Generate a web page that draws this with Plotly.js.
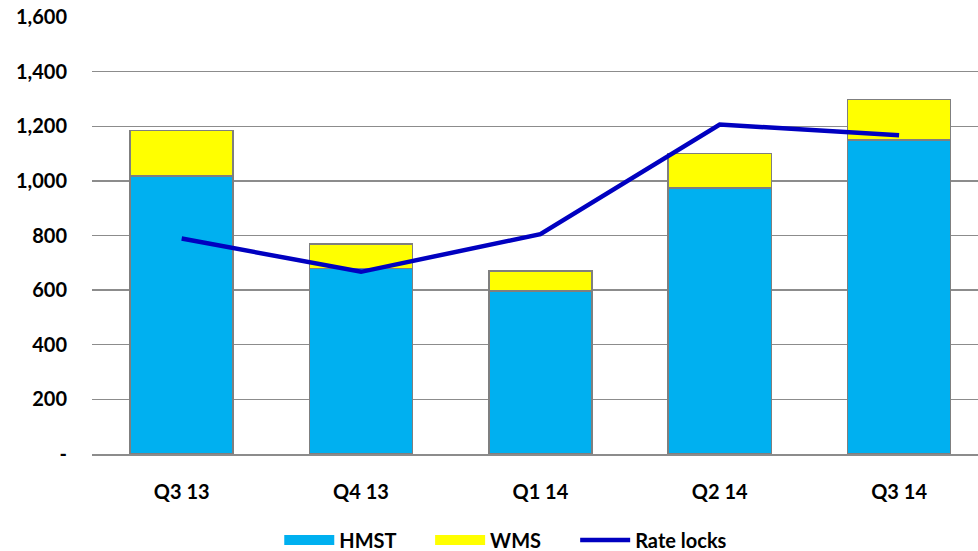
<!DOCTYPE html>
<html>
<head>
<meta charset="utf-8">
<script src="https://cdn.plot.ly/plotly-3.0.1.min.js"></script>
<style>html,body{margin:0;padding:0;background:#fff;}#chart{width:978px;height:551px;}</style>
</head>
<body>
<div id="chart"></div>
<script>
const categories = ["Q3 13", "Q4 13", "Q1 14", "Q2 14", "Q3 14"];
const hmst = [1017, 679, 596, 974, 1149];
const wms = [168, 89, 74, 126, 149];
const rateLocks = [789, 667, 805, 1206, 1167];
const yTickVals = [0, 200, 400, 600, 800, 1000, 1200, 1400, 1600];
const yTickText = ["-", "200", "400", "600", "800", "1,000", "1,200", "1,400", "1,600"];
const seriesNames = ["HMST", "WMS", "Rate locks"];

const fam = "Lato, 'Open Sans', sans-serif";
const boldFont = {family: fam, size: 20, color: "#000", weight: "bold"};
const hmstColor = "#00B0F0", wmsColor = "#FFFF00", lineColor = "#0000C0";
const pad = "\u00a0\u00a0\u00a0\u00a0\u00a0\u00a0";

const traces = [
  {type: "bar", name: seriesNames[0], x: categories, y: hmst, showlegend: false,
   marker: {color: hmstColor, line: {color: "#7f7f7f", width: 1.5}}},
  {type: "bar", name: seriesNames[1], x: categories, y: wms, showlegend: false,
   marker: {color: wmsColor, line: {color: "#7f7f7f", width: 1.5}}},
  {type: "scatter", mode: "lines", name: seriesNames[2], x: categories, y: rateLocks, showlegend: false,
   line: {color: lineColor, width: 4.5}},
  // legend entries (wide swatches like the original)
  {type: "scatter", mode: "lines", name: seriesNames[0] + pad, x: [categories[0]], y: [null], hoverinfo: "skip",
   line: {color: hmstColor, width: 14}},
  {type: "scatter", mode: "lines", name: seriesNames[1] + pad, x: [categories[0]], y: [null], hoverinfo: "skip",
   line: {color: wmsColor, width: 14}},
  {type: "scatter", mode: "lines", name: seriesNames[2], x: [categories[0]], y: [null], hoverinfo: "skip",
   line: {color: lineColor, width: 4.5}}
];

const layout = {
  width: 978, height: 551,
  margin: {l: 92, r: 0, t: 17, b: 97, autoexpand: false},
  paper_bgcolor: "#fff", plot_bgcolor: "#fff",
  barmode: "stack", bargap: 0.425,
  font: boldFont,
  showlegend: true,
  legend: {orientation: "h", x: 0.467, xanchor: "center", y: -0.197, yanchor: "middle",
           itemwidth: 50, font: boldFont, traceorder: "normal"},
  xaxis: {type: "category", range: [-0.5, 4.44], showgrid: false, zeroline: false,
          showline: true, linecolor: "#8c8c8c", linewidth: 1.5, ticks: "",
          ticklabelstandoff: 19, tickfont: boldFont},
  yaxis: {range: [0, 1600], tickvals: yTickVals, ticktext: yTickText,
          showgrid: true, gridcolor: "#8c8c8c", gridwidth: 1.3, zeroline: false,
          showline: false, ticks: "", ticklabelstandoff: 24, tickfont: boldFont}
};

Plotly.newPlot("chart", traces, layout, {displayModeBar: false, staticPlot: true});
</script>
</body>
</html>
